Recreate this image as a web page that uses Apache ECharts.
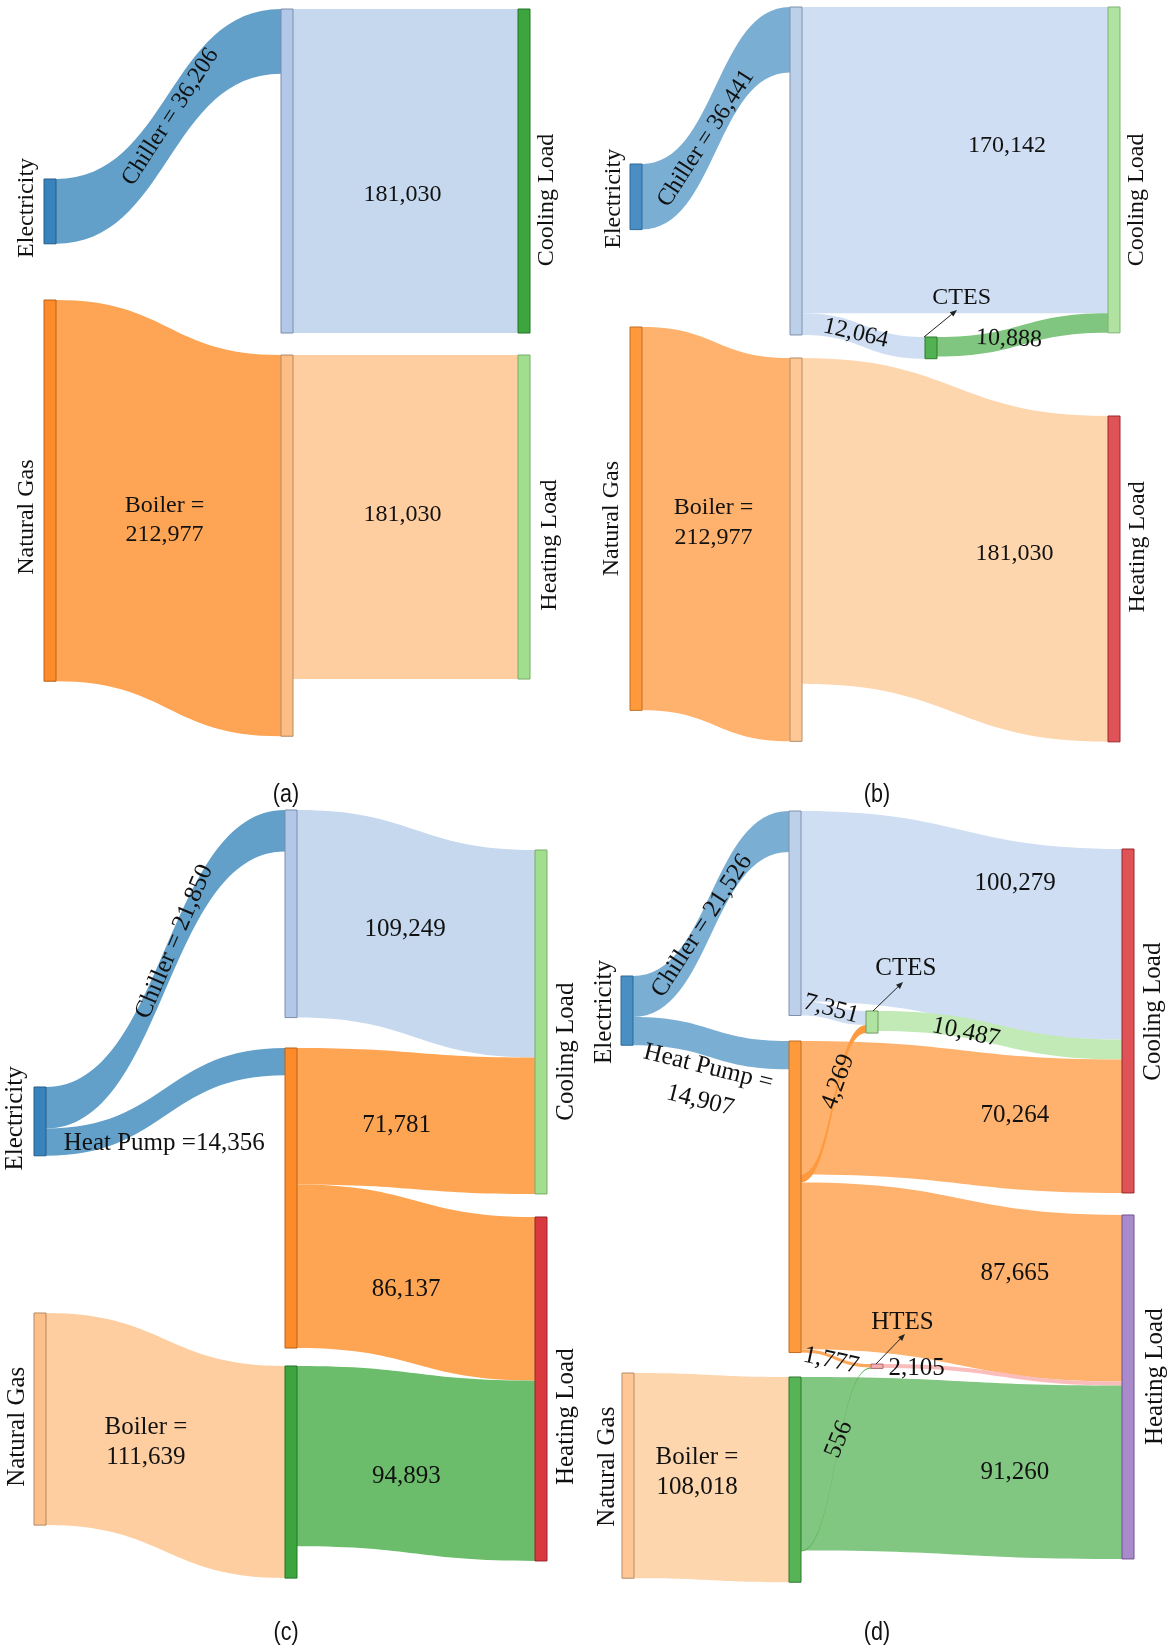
<!DOCTYPE html>
<html>
<head>
<meta charset="utf-8">
<title>Energy flow Sankey diagrams</title>
<script src="https://cdn.jsdelivr.net/npm/echarts@6/dist/echarts.min.js"></script>
<style>
  html, body { margin: 0; padding: 0; background: #ffffff; }
  #chart { width: 1167px; height: 1650px; }
</style>
</head>
<body>
<div id="chart"></div>
<script>
// ---------------- energy flows (annual, kWh-equivalent units) ----------------

// (a) chiller + boiler
const nodesA = ['Electricity', 'Natural Gas', 'Chiller', 'Boiler', 'Cooling Load', 'Heating Load'];
const linksA = [
  ['Electricity', 'Chiller', 36206],
  ['Natural Gas', 'Boiler', 212977],
  ['Chiller', 'Cooling Load', 181030],
  ['Boiler', 'Heating Load', 181030]
];
const prefixA = ['Chiller = ', 'Boiler =\n', '', ''];

// (b) chiller + boiler with cold storage
const nodesB = ['Electricity', 'Natural Gas', 'Chiller', 'Cooling Load', 'CTES', 'Boiler', 'Heating Load'];
const linksB = [
  ['Electricity', 'Chiller', 36441],
  ['Natural Gas', 'Boiler', 212977],
  ['Chiller', 'Cooling Load', 170142],
  ['Chiller', 'CTES', 12064],
  ['CTES', 'Cooling Load', 10888],
  ['Boiler', 'Heating Load', 181030]
];
const prefixB = ['Chiller = ', 'Boiler =\n', '', '', '', ''];

// (c) chiller + heat pump + boiler
const nodesC = ['Electricity', 'Natural Gas', 'Chiller', 'Heat Pump', 'Boiler', 'Cooling Load', 'Heating Load'];
const linksC = [
  ['Electricity', 'Chiller', 21850],
  ['Electricity', 'Heat Pump', 14356],
  ['Natural Gas', 'Boiler', 111639],
  ['Chiller', 'Cooling Load', 109249],
  ['Heat Pump', 'Cooling Load', 71781],
  ['Heat Pump', 'Heating Load', 86137],
  ['Boiler', 'Heating Load', 94893]
];
const prefixC = ['Chiller = ', 'Heat Pump =', 'Boiler =\n', '', '', '', ''];

// (d) chiller + heat pump + boiler with cold and hot storage
const nodesD = ['Electricity', 'Natural Gas', 'Chiller', 'Cooling Load', 'CTES', 'Heat Pump', 'Heating Load', 'HTES', 'Boiler'];
const linksD = [
  ['Electricity', 'Chiller', 21526],
  ['Electricity', 'Heat Pump', 14907],
  ['Natural Gas', 'Boiler', 108018],
  ['Chiller', 'Cooling Load', 100279],
  ['Chiller', 'CTES', 7351],
  ['CTES', 'Cooling Load', 10487],
  ['Heat Pump', 'Cooling Load', 70264],
  ['Heat Pump', 'Heating Load', 87665],
  ['Heat Pump', 'HTES', 1777],
  ['HTES', 'Heating Load', 2105],
  ['Boiler', 'Heating Load', 91260],
  ['Heat Pump', 'CTES', 4269],
  ['Boiler', 'HTES', 556]
];
const prefixD = ['Chiller = ', 'Heat Pump =\n', 'Boiler =\n', '', '', '', '', '', '', '', '', '', ''];

// ---------------- presentation ----------------
const SERIF = '"Liberation Serif", "Times New Roman", serif';
const SANS = '"Liberation Sans", Arial, sans-serif';
const TEXT = '#111111';
const BOX_W = 1000;
const fmt = v => v.toLocaleString('en-US');

// label offsets are applied in the label's rotated frame; convert a screen shift into that frame
function rotOffset(dx, dy, deg) {
  const t = deg * Math.PI / 180;
  return [dx * Math.cos(t) - dy * Math.sin(t), dx * Math.sin(t) + dy * Math.cos(t)];
}
function sideLabel(side, size, dy, dist) {
  return {
    show: true, position: side, distance: dist, rotate: 90, align: 'center',
    verticalAlign: side === 'left' ? 'bottom' : 'top',
    offset: rotOffset(0, dy, 90), fontSize: size, fontFamily: SERIF, color: TEXT
  };
}
function topLabel(size, dx, dy) {
  return { show: true, position: 'top', distance: 0, offset: [dx, dy], fontSize: size, fontFamily: SERIF, color: TEXT };
}
function edgeLabelAt(size, dx, dy, deg, lh) {
  deg = deg || 0;
  const o = {
    show: true, fontSize: size, fontFamily: SERIF, color: TEXT, rotate: deg,
    offset: rotOffset(dx, dy, deg), align: 'center', verticalAlign: 'middle'
  };
  if (lh) o.lineHeight = lh;
  return o;
}

const specA = {
  nodes: nodesA, links: linksA, prefix: prefixA, pxPerUnit: 1.79 / 1000, fontSize: 24,
  pos: {
    'Electricity': [44, 179], 'Natural Gas': [44, 300], 'Chiller': [281, 9], 'Boiler': [281, 355],
    'Cooling Load': [518, 9], 'Heating Load': [518, 355]
  },
  nodeStyle: {
    'Electricity': ['#3983bd', '#245d8c'], 'Natural Gas': ['#fd8b2a', '#b8621b'],
    'Chiller': ['#b3c8e8', '#7d8ea8'], 'Boiler': ['#fdbe86', '#b38a62'],
    'Cooling Load': ['#3da53d', '#25752a'], 'Heating Load': ['#a1de8d', '#77ad68']
  },
  nodeLabel: {
    'Electricity': sideLabel('left', 24, -3.5, 5), 'Natural Gas': sideLabel('left', 24, 26.5, 5),
    'Cooling Load': sideLabel('right', 24, 29, 4), 'Heating Load': sideLabel('right', 24, 28, 7)
  },
  linkColor: ['#62a0c9', '#fda554', '#c6d8ee', '#fecda0'],
  edgePlace: [[2, -9.5, 57], [-4, 2, 0, 29], [-3, 24], [-3, -2]]
};

const specB = {
  nodes: nodesB, links: linksB, prefix: prefixB, pxPerUnit: 1.80 / 1000, fontSize: 24,
  pos: {
    'Electricity': [630, 164], 'Natural Gas': [630, 327], 'Chiller': [790, 7], 'CTES': [925, 337],
    'Boiler': [790, 358], 'Cooling Load': [1108, 7], 'Heating Load': [1108, 416]
  },
  nodeStyle: {
    'Electricity': ['#4a8fc3', '#2c6999'], 'Natural Gas': ['#fe9a3b', '#c06e22'],
    'Chiller': ['#bdd0ea', '#8090aa'], 'CTES': ['#52b152', '#2d7a2d'], 'Boiler': ['#fec795', '#b48d69'],
    'Cooling Load': ['#b0e3a1', '#7fb173'], 'Heating Load': ['#df5357', '#98292d']
  },
  nodeLabel: {
    'Electricity': sideLabel('left', 24, 2, 4), 'Natural Gas': sideLabel('left', 24, 0, 6),
    'Cooling Load': sideLabel('right', 24, 30, 4), 'Heating Load': sideLabel('right', 24, -32, 5),
    'CTES': topLabel(24, 30.7, -27)
  },
  linkColor: ['#7aaed3', '#ffb26d', '#cfdef2', '#cfdef2', '#80c580', '#fed6ae'],
  edgePlace: [[-10, 20, 57], [-2.5, -11.7, 0, 30], [52, -14], [-7.7, -2.7, -13], [-13.5, 4, -2], [59.5, 4]]
};

const specC = {
  nodes: nodesC, links: linksC, prefix: prefixC, pxPerUnit: 1.90 / 1000, fontSize: 25,
  pos: {
    'Electricity': [34, 1087], 'Natural Gas': [34, 1313], 'Chiller': [285, 810], 'Heat Pump': [285, 1048],
    'Boiler': [285, 1366], 'Cooling Load': [535, 850], 'Heating Load': [535, 1217]
  },
  nodeStyle: {
    'Electricity': ['#3983bd', '#245d8c'], 'Natural Gas': ['#fdc08b', '#b8875f'],
    'Chiller': ['#b3c8e8', '#7d8ea8'], 'Heat Pump': ['#fd8b2a', '#b8621b'], 'Boiler': ['#3da53d', '#25752a'],
    'Cooling Load': ['#a1de8d', '#77ad68'], 'Heating Load': ['#d93a3e', '#95252a']
  },
  nodeLabel: {
    'Electricity': sideLabel('left', 25, -3, 6), 'Natural Gas': sideLabel('left', 25, 7.7, 4),
    'Cooling Load': sideLabel('right', 25, 29.7, 6), 'Heating Load': sideLabel('right', 25, 27.7, 6)
  },
  linkColor: ['#62a0c9', '#62a0c9', '#fecea0', '#c6d8ee', '#fea554', '#fea554', '#6bbd6b'],
  edgePlace: [[9, -27.6, 67], [-1.3, 42], [-19.6, -3, 0, 30], [-11, -4.5], [-19.5, 4], [-10, 7], [-9.6, 13]]
};

const specD = {
  nodes: nodesD, links: linksD, prefix: prefixD, pxPerUnit: 1.90 / 1000, fontSize: 25,
  pos: {
    'Electricity': [621, 976], 'Natural Gas': [622, 1373], 'Chiller': [789, 811], 'Cooling Load': [1122, 849],
    'CTES': [866, 1011], 'Heat Pump': [789, 1041], 'Heating Load': [1122, 1215], 'HTES': [871, 1364],
    'Boiler': [789, 1377]
  },
  nodeStyle: {
    'Electricity': ['#4a8fc3', '#2c6999'], 'Natural Gas': ['#fec795', '#b48d69'],
    'Chiller': ['#bdd0ea', '#8090aa'], 'Cooling Load': ['#df5357', '#98292d'],
    'CTES': ['#b0e3a1', '#6f9d63'], 'Heat Pump': ['#fe9a3b', '#c06e22'],
    'Heating Load': ['#a98bcb', '#6e5592'], 'HTES': ['#f2aeb1', '#b06a6e'], 'Boiler': ['#56b356', '#2d7a2d']
  },
  nodeLabel: {
    'Electricity': sideLabel('left', 25, 1.4, 4), 'Natural Gas': sideLabel('left', 25, -9, 2),
    'Cooling Load': sideLabel('right', 25, -9.3, 6), 'Heating Load': sideLabel('right', 25, -10.3, 8),
    'CTES': topLabel(25, 33.8, -29.5), 'HTES': topLabel(25, 25.5, -29)
  },
  linkColor: ['#7aaed3', '#7aaed3', '#fed6ae', '#cfdef2', '#cfdef2', '#c2eab6', '#ffb26d', '#ffb26d',
              '#fca85c', '#fbbcbc', '#81c681', '#fd9a40', '#4fae4f'],
  edgePlace: [[-9, 11.8, 57], [-6.8, 41, -14, 34], [-14.5, -5, 0, 30], [53.5, -42], [-2.3, -4.2, -15],
              [-34, -2.7, -12], [53.4, -2], [53.4, -8.7], [-4.8, 2.5, -12], [-85.8, -6.5], [53.4, 4.7],
              [4.6, -22, 70], [3, -20, 68]]
};

function buildSankey(spec) {
  const inSum = {}, outSum = {};
  spec.links.forEach(([s, t, v]) => {
    outSum[s] = (outSum[s] || 0) + v;
    inSum[t] = (inSum[t] || 0) + v;
  });
  // all nodes share one layout column with no gap, so the band scale equals pxPerUnit
  const total = spec.nodes.reduce((acc, n) => acc + Math.max(inSum[n] || 0, outSum[n] || 0), 0);
  const boxH = total * spec.pxPerUnit;
  const data = spec.nodes.map(name => {
    const [x, y] = spec.pos[name];
    const st = spec.nodeStyle[name];
    return {
      name: name, depth: 0, localX: x / BOX_W, localY: y / boxH,
      itemStyle: { color: st[0], borderColor: st[1], borderWidth: 1 },
      label: spec.nodeLabel[name] || { show: false }
    };
  });
  const links = spec.links.map(([source, target, value], i) => {
    const p = spec.edgePlace[i];
    return {
      source: source, target: target, value: value, prefix: spec.prefix[i],
      lineStyle: { color: spec.linkColor[i], opacity: 1, curveness: 0.5 },
      edgeLabel: p ? edgeLabelAt(spec.fontSize, p[0], p[1], p[2], p[3]) : { show: false }
    };
  });
  return {
    type: 'sankey', left: 0, top: 0, width: BOX_W, height: boxH,
    nodeWidth: 12, nodeGap: 0, layoutIterations: 0, nodeAlign: 'left', draggable: false,
    emphasis: { disabled: true },
    label: { show: false },
    edgeLabel: { show: false, formatter: p => (p.data.prefix || '') + fmt(p.value) },
    data: data, links: links
  };
}

// annotation arrows pointing from a storage node up to its name
function arrow(x1, y1, x2, y2) {
  const L = Math.hypot(x2 - x1, y2 - y1), ux = (x2 - x1) / L, uy = (y2 - y1) / L;
  const hl = 7, hw = 2.8;
  const bx = x2 - ux * hl, by = y2 - uy * hl;
  return [
    { type: 'line', silent: true, z: 100, shape: { x1: x1, y1: y1, x2: bx, y2: by },
      style: { stroke: '#222', lineWidth: 1 } },
    { type: 'polygon', silent: true, z: 100,
      shape: { points: [[x2, y2], [bx - uy * hw, by + ux * hw], [bx + uy * hw, by - ux * hw]] },
      style: { fill: '#222' } }
  ];
}
function nodeArrow(spec, name, sx, sy, ex, ey) {
  const [x, y] = spec.pos[name];
  return arrow(x + sx, y + sy, x + ex, y + ey);
}

function panelTitle(text, x, y) {
  return { type: 'text', silent: true, z: 100, x: x, y: y, scaleX: 0.86,
    style: { text: text, fontSize: 25, fontFamily: SANS, fill: '#111', align: 'center', verticalAlign: 'middle' } };
}

const chart = echarts.init(document.getElementById('chart'), null, { renderer: 'canvas' });
chart.setOption({
  animation: false,
  backgroundColor: '#ffffff',
  series: [buildSankey(specA), buildSankey(specB), buildSankey(specC), buildSankey(specD)],
  graphic: [].concat(
    nodeArrow(specB, 'CTES', -1, 0, 32, -27),
    nodeArrow(specD, 'CTES', 7, 0, 37, -29),
    nodeArrow(specD, 'HTES', 5, 0, 34, -30),
    [panelTitle('(a)', 286, 795), panelTitle('(b)', 877, 795), panelTitle('(c)', 286, 1633), panelTitle('(d)', 877, 1633)]
  )
});
</script>
</body>
</html>
